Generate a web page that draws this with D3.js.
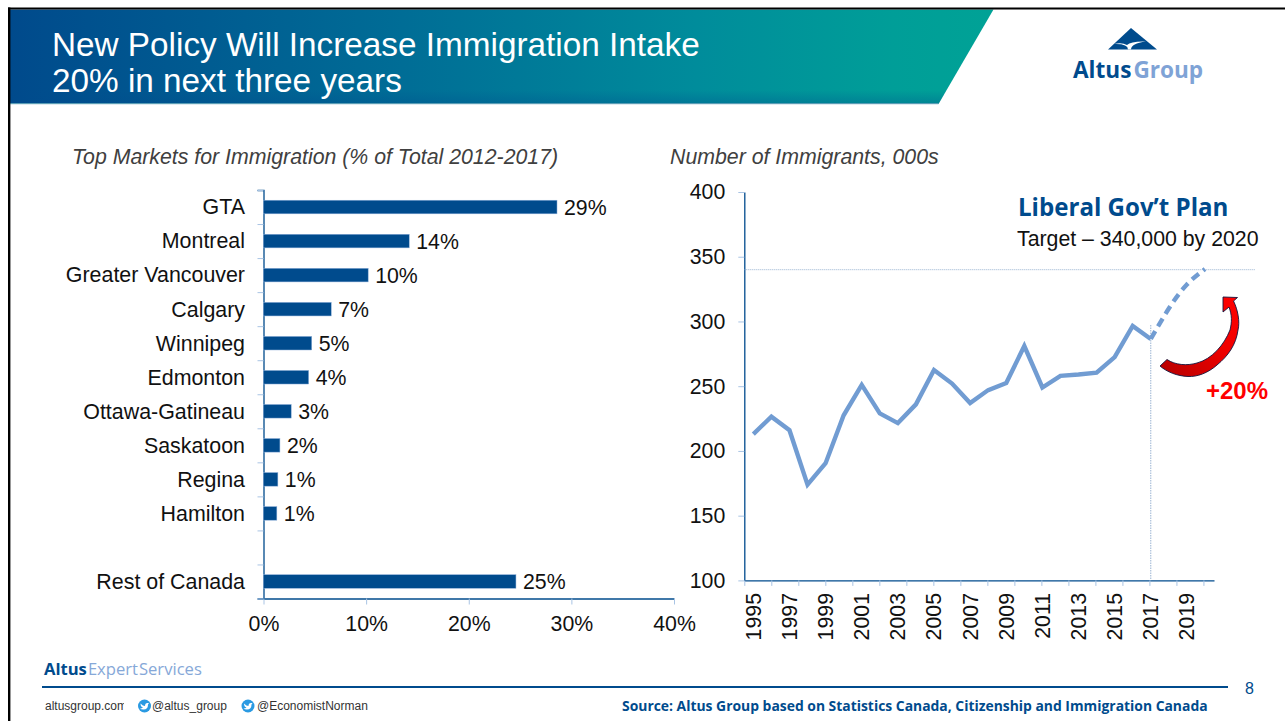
<!DOCTYPE html>
<html>
<head>
<meta charset="utf-8">
<script src="https://cdn.jsdelivr.net/npm/d3@7"></script>
<style>
  html, body { margin: 0; padding: 0; background: #fff; overflow: hidden; }
  svg { display: block; }
  text { font-family: "Liberation Sans", Arial, sans-serif; }
  .brand { font-family: "Open Sans", "Noto Sans", sans-serif; }
  .domain { stroke: #004b8d; stroke-width: 1.3; }
  .tick line { stroke: #a9c4e4; stroke-width: 1; }
</style>
</head>
<body>
<svg id="slide" width="1285" height="721"></svg>
<script>
// Share of immigration by market, per cent of total 2012-2017
const markets = ["GTA", "Montreal", "Greater Vancouver", "Calgary", "Winnipeg", "Edmonton",
                 "Ottawa-Gatineau", "Saskatoon", "Regina", "Hamilton", "", "Rest of Canada"];
const marketShare = [28.6, 14.2, 10.2, 6.6, 4.7, 4.4, 2.7, 1.6, 1.4, 1.3, null, 24.6];
const shareTicks = [0, 10, 20, 30, 40];

// Immigrants per year, thousands
const years = [1995, 1996, 1997, 1998, 1999, 2000, 2001, 2002, 2003, 2004, 2005, 2006, 2007,
               2008, 2009, 2010, 2011, 2012, 2013, 2014, 2015, 2016, 2017, 2018, 2019, 2020];
const immigrants = [213, 226.5, 216, 174, 190.5, 227.5, 251, 229, 221.5, 236, 262.5, 252, 237,
                    247, 252.5, 281, 249, 258, 259, 260.5, 272.5, 296.5, 286.5];
const planYears = [2017, 2018, 2019, 2020];
const planTarget = [286.5, 310, 328.5, 340.5];
const countTicks = [100, 150, 200, 250, 300, 350, 400];
const targetLevel = 340;
const baseYear = 2017;

const navy = "#004b8d", lineBlue = "#719cd2", guide = "#7f9fc6";
const svg = d3.select("#slide");

/* ---------- slide furniture ---------- */
const defs = svg.append("defs");
const band = defs.append("linearGradient").attr("id", "banner")
  .attr("gradientUnits", "userSpaceOnUse").attr("x1", 10).attr("x2", 990).attr("y1", 0).attr("y2", 0);
[[0, "#004a8c"], [0.4, "#006d96"], [0.7, "#008c9b"], [0.9, "#009e98"], [1, "#00a296"]]
  .forEach(([o, c]) => band.append("stop").attr("offset", o).attr("stop-color", c));

const shade = defs.append("linearGradient").attr("id", "bannerShade").attr("x1", 0).attr("x2", 0).attr("y1", 0).attr("y2", 1);
shade.append("stop").attr("offset", 0).attr("stop-color", navy).attr("stop-opacity", 0);
shade.append("stop").attr("offset", 1).attr("stop-color", navy).attr("stop-opacity", 0.3);

const swoop = defs.append("linearGradient").attr("id", "swoop")
  .attr("gradientUnits", "userSpaceOnUse").attr("x1", 1160).attr("x2", 1240).attr("y1", 370).attr("y2", 300);
swoop.append("stop").attr("offset", 0).attr("stop-color", "#b80000");
swoop.append("stop").attr("offset", 0.6).attr("stop-color", "#f00000");
swoop.append("stop").attr("offset", 1).attr("stop-color", "#ff0000");

defs.append("clipPath").attr("id", "clipSite").append("rect").attr("x", 40).attr("y", 695).attr("width", 84).attr("height", 22);
defs.append("clipPath").attr("id", "clipHandle").append("rect").attr("x", 150).attr("y", 695).attr("width", 78).attr("height", 22);
defs.append("clipPath").attr("id", "clipBanner").append("path").attr("d", "M10,9.5 H993.5 L938.5,104 H10 Z");

svg.append("path").attr("d", "M10,9.5 H993.5 L938.5,104 H10 Z").attr("fill", "url(#banner)");
svg.append("rect").attr("x", 10).attr("y", 90).attr("width", 985).attr("height", 13)
  .attr("fill", "url(#bannerShade)").attr("clip-path", "url(#clipBanner)");
svg.append("rect").attr("x", 10).attr("y", 103).attr("width", 928.5).attr("height", 1.2).attr("fill", "#5a9db5");
svg.append("rect").attr("x", 8).attr("y", 7.5).attr("width", 1277).attr("height", 2).attr("fill", "#000");
svg.append("rect").attr("x", 8).attr("y", 7.5).attr("width", 2.4).attr("height", 713.5).attr("fill", "#000");

const title = svg.append("g").attr("fill", "#fff").attr("font-size", 33.3);
title.append("text").attr("x", 52).attr("y", 56).text("New Policy Will Increase Immigration Intake");
title.append("text").attr("x", 52).attr("y", 92).text("20% in next three years");

// Company mark
svg.append("path").attr("d", "M1131,28 L1157,49.5 H1108 Z").attr("fill", navy);
svg.append("path").attr("d", "M1114,44 Q1128,43.5 1128,49.5 L1131,49.5 Q1131,43.5 1146,41.5 Q1131,41 1127,45 Q1122,42 1114,44 Z").attr("fill", "#fff");
const logo = svg.append("text").attr("class", "brand").attr("x", 1073).attr("y", 77.5)
  .attr("font-size", 22.6).attr("font-weight", 700);
logo.append("tspan").attr("fill", navy).text("Altus");
logo.append("tspan").attr("fill", "#7fa3d6").attr("dx", 2).text("Group");

/* ---------- left panel: market share bars ---------- */
svg.append("text").attr("x", 72).attr("y", 164).attr("font-size", 21.3).attr("font-style", "italic")
  .attr("fill", "#404040").text("Top Markets for Immigration (% of Total 2012-2017)");

const top0 = 190, bottom0 = 598.5, left0 = 263.5, right0 = 674;
const xShare = d3.scaleLinear().domain([0, 40]).range([left0, right0]);
const yMarket = d3.scaleBand().domain(d3.range(markets.length)).range([top0, bottom0]);
const yEdges = d3.scaleLinear().domain([0, markets.length]).range([top0, bottom0]);
const pct = v => d3.format(".0f")(v) + "%";

// Tick marks sit on the band edges, labels on the band centres
svg.append("g").attr("transform", `translate(${left0},0)`)
  .call(d3.axisLeft(yEdges).tickValues(d3.range(markets.length + 1)).tickSize(6).tickFormat(""));

const catAxis = svg.append("g").attr("transform", `translate(${left0},0.5)`)
  .call(d3.axisLeft(yMarket).tickSize(0).tickPadding(18.5).tickFormat(i => markets[i]));
catAxis.select(".domain").remove();
catAxis.selectAll("text").attr("font-size", 21.4).attr("fill", "#111");

const shareAxis = svg.append("g").attr("transform", `translate(0,${bottom0})`)
  .call(d3.axisBottom(xShare).tickValues(shareTicks).tickSize(6).tickPadding(11).tickFormat(pct).tickSizeOuter(0));
shareAxis.selectAll("text").attr("font-size", 21.3).attr("fill", "#111");

const rows = marketShare.map((v, i) => ({ v, i })).filter(d => d.v !== null);
svg.append("g").selectAll("rect").data(rows).join("rect")
  .attr("x", left0)
  .attr("y", d => yMarket(d.i) + yMarket.bandwidth() / 2 - 6.8)
  .attr("width", d => xShare(d.v) - left0)
  .attr("height", 13.6)
  .attr("fill", navy).attr("stroke", "#8fb0da").attr("stroke-width", 0.5);
svg.append("g").selectAll("text").data(rows).join("text")
  .attr("x", d => xShare(d.v) + 7)
  .attr("y", d => yMarket(d.i) + yMarket.bandwidth() / 2 + 8)
  .attr("font-size", 21.3).attr("fill", "#111")
  .text(d => pct(d.v));

/* ---------- right panel: annual intake line ---------- */
svg.append("text").attr("x", 670).attr("y", 164).attr("font-size", 21.3).attr("font-style", "italic")
  .attr("fill", "#404040").text("Number of Immigrants, 000s");

const left1 = 744.3, right1 = 1214, top1 = 192, bottom1 = 580.4;
const yCount = d3.scaleLinear().domain([100, 400]).range([bottom1, top1]);
const xYear = d3.scalePoint().domain(years).range([left1, right1]).padding(0.5);
const xSlots = d3.scaleLinear().domain([0, years.length]).range([left1, right1]);

const countAxis = svg.append("g").attr("transform", `translate(${left1},0)`)
  .call(d3.axisLeft(yCount).tickValues(countTicks).tickSize(6).tickPadding(13).tickSizeOuter(0));
countAxis.selectAll("text").attr("font-size", 21.3).attr("fill", "#111");

// Tick marks along the year axis run at one and a half year slots
svg.append("g").attr("transform", `translate(0,${bottom1})`)
  .call(d3.axisBottom(xSlots).tickValues(d3.range(0, years.length, 1.495)).tickSize(5.5).tickFormat("").tickSizeOuter(0));

svg.append("g").selectAll("text").data(years.filter((y, i) => i % 2 === 0)).join("text")
  .attr("transform", d => `translate(${xYear(d) + 7.5},593) rotate(-90)`)
  .attr("text-anchor", "end").attr("font-size", 21.3).attr("fill", "#111").text(d => d);

// Target and base-year guides
svg.append("line").attr("x1", left1).attr("x2", 1255).attr("y1", yCount(targetLevel)).attr("y2", yCount(targetLevel))
  .attr("stroke", guide).attr("stroke-width", 0.8).attr("stroke-dasharray", "1 1");
svg.append("line").attr("x1", xYear(baseYear)).attr("x2", xYear(baseYear)).attr("y1", 325).attr("y2", bottom1)
  .attr("stroke", guide).attr("stroke-width", 0.8).attr("stroke-dasharray", "1.5 1");

const actual = d3.line().x((d, i) => xYear(years[i])).y(d => yCount(d));
svg.append("path").attr("d", actual(immigrants)).attr("fill", "none")
  .attr("stroke", lineBlue).attr("stroke-width", 4.4).attr("stroke-linejoin", "miter");
const plan = d3.line().curve(d3.curveNatural).x((d, i) => xYear(planYears[i])).y(d => yCount(d));
svg.append("path").attr("d", plan(planTarget)).attr("fill", "none")
  .attr("stroke", lineBlue).attr("stroke-width", 4.4).attr("stroke-dasharray", "9 5.5");

// Callouts
svg.append("text").attr("class", "brand").attr("x", 1018).attr("y", 216)
  .attr("font-size", 24.1).attr("font-weight", 700).attr("fill", navy).text("Liberal Gov’t Plan");
svg.append("text").attr("x", 1017).attr("y", 246).attr("font-size", 21.3).attr("fill", "#111")
  .text("Target – 340,000 by 2020");
svg.append("text").attr("x", 1206).attr("y", 399).attr("font-size", 24).attr("font-weight", 700)
  .attr("fill", "#ff0000").text("+20%");

svg.append("path")
  .attr("d", "M1160,366 L1167,359.5 C1175,365 1187,366 1197,363 C1212,359 1224,345 1230,330 C1232,322 1232,315 1229,307 L1223,312 L1223,297 L1237.5,297.5 L1233.5,301 C1238,310 1240,322 1238,330 C1236,345 1228,356 1217,365 C1208,373 1197,377 1188,376.5 C1177,376 1167,372 1160,366 Z")
  .attr("fill", "url(#swoop)").attr("stroke", "#14143c").attr("stroke-width", 0.9).attr("stroke-linejoin", "round");

/* ---------- footer ---------- */
const footBrand = svg.append("text").attr("class", "brand").attr("x", 44).attr("y", 675).attr("font-size", 16.6);
footBrand.append("tspan").attr("font-weight", 700).attr("fill", navy).text("Altus");
footBrand.append("tspan").attr("fill", "#86a8d8").attr("dx", 1).text("Expert");
footBrand.append("tspan").attr("fill", "#86a8d8").attr("dx", 1).text("Services");

svg.append("line").attr("x1", 42).attr("x2", 1228).attr("y1", 687).attr("y2", 687).attr("stroke", navy).attr("stroke-width", 2);
svg.append("text").attr("x", 1245).attr("y", 694).attr("font-size", 16).attr("fill", navy).text("8");

const small = svg.append("g").attr("font-size", 12).attr("fill", "#333");
small.append("text").attr("x", 45).attr("y", 710).attr("clip-path", "url(#clipSite)").text("altusgroup.com");
small.append("text").attr("x", 152).attr("y", 710).attr("clip-path", "url(#clipHandle)").text("@altus_group");
small.append("text").attr("x", 257).attr("y", 710).text("@EconomistNorman");

[144.5, 248].forEach(cx => {
  const badge = svg.append("g").attr("transform", `translate(${cx},706)`);
  badge.append("circle").attr("r", 6.5).attr("fill", "#2a9ae2");
  badge.append("path").attr("d", "M-4,-2.5 Q-1.5,0 0.5,0 Q0.5,-3 3,-3 L4.5,-3 L3.5,-1.5 Q3.5,3.5 -1,3.5 Q-3.5,3.5 -4.5,2.5 Q-2.5,2.5 -1.5,1.5 Q-4,1 -4,-2.5 Z").attr("fill", "#fff");
});

svg.append("text").attr("class", "brand").attr("x", 622).attr("y", 711).attr("font-size", 13.9)
  .attr("font-weight", 700).attr("fill", navy)
  .text("Source:  Altus Group based on Statistics Canada, Citizenship and Immigration Canada");
</script>
</body>
</html>
